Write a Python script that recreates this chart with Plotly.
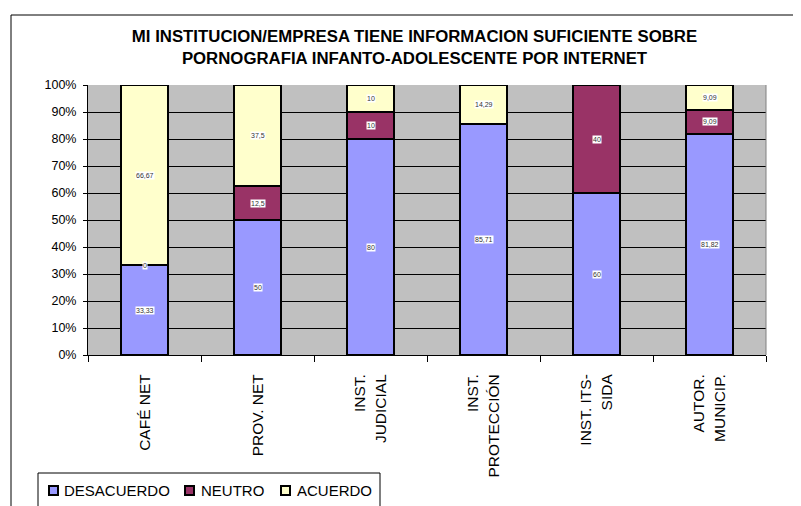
import plotly.graph_objects as go

categories = ["CAFÉ NET", "PROV. NET", "INST.<br>JUDICIAL", "INST.<br>PROTECCIÓN", "INST. ITS-<br>SIDA", "AUTOR.<br>MUNICIP."]
desacuerdo = [33.33, 50, 80, 85.71, 60, 81.82]
neutro = [0, 12.5, 10, None, 40, 9.09]
acuerdo = [66.67, 37.5, 10, 14.29, None, 9.09]
y_ticks = [0, 10, 20, 30, 40, 50, 60, 70, 80, 90, 100]
y_tick_labels = ["0%", "10%", "20%", "30%", "40%", "50%", "60%", "70%", "80%", "90%", "100%"]
series_names = ["DESACUERDO", "NEUTRO", "ACUERDO"]
title_text = "MI INSTITUCION/EMPRESA TIENE INFORMACION SUFICIENTE SOBRE<br>PORNOGRAFIA INFANTO-ADOLESCENTE POR INTERNET"

colors = ["#9999FF", "#993366", "#FFFFCC"]
series = list(zip(series_names, [desacuerdo, neutro, acuerdo], colors))

FONT = "Liberation Sans, Arial, sans-serif"

# the page body adds an 8px offset; work in screen pixels and compensate
OFF = 8
W, H = 801, 506
# plot area in screen pixels
SL, SR, ST, SB = 88, 766, 85, 355
L, R, T, B = SL - OFF, SR - OFF, ST - OFF, SB - OFF

def px(x):
    return (x - SL) / (SR - SL)
def py(y):
    return (SB - y) / (SB - ST)

fig = go.Figure()
for name, vals, col in series:
    fig.add_trace(go.Bar(
        x=categories, y=[v if v is not None else 0 for v in vals], name=name,
        marker=dict(color=col, line=dict(color="black", width=2)),
        width=0.41, showlegend=False,
    ))

def fmt(v):
    s = ("%.2f" % v).rstrip("0").rstrip(".")
    return s.replace(".", ",")

annotations = []
for i, cat in enumerate(categories):
    base = 0
    for name, vals, col in series:
        v = vals[i]
        if v is None:
            continue
        annotations.append(dict(
            x=cat, y=base + v / 2, xref="x", yref="y", text=fmt(v),
            showarrow=False, bgcolor="white", borderpad=0,
            font=dict(size=7, color="#333333", family=FONT),
        ))
        base += v

shapes = [
    # outer chart frame
    dict(type="rect", xref="paper", yref="paper",
         x0=px(11), x1=px(830), y0=py(530), y1=py(15),
         line=dict(color="black", width=1), fillcolor="rgba(0,0,0,0)", layer="below"),
    # plot area right border
    dict(type="line", xref="paper", yref="paper", x0=1, x1=1, y0=0, y1=1,
         line=dict(color="#808080", width=1)),
    # legend box
    dict(type="rect", xref="paper", yref="paper",
         x0=px(38), x1=px(380), y0=py(530), y1=py(473),
         line=dict(color="black", width=1), fillcolor="white"),
]

legend_items = [(49, 62), (185, 199), (281, 295)]
for (mx, tx), (name, vals, col) in zip(legend_items, series):
    shapes.append(dict(type="rect", xref="paper", yref="paper",
                       x0=px(mx), x1=px(mx + 9), y0=py(495), y1=py(486),
                       line=dict(color="black", width=2), fillcolor=col))
    annotations.append(dict(x=px(tx), y=py(490), xref="paper", yref="paper",
                            text=name, showarrow=False, xanchor="left", yanchor="middle",
                            font=dict(size=15, family=FONT, color="black")))

fig.update_layout(
    barmode="stack",
    width=W, height=H,
    margin=dict(l=L, r=W - R, t=T, b=H - B, autoexpand=False),
    paper_bgcolor="white",
    plot_bgcolor="#C0C0C0",
    font=dict(family=FONT, color="black"),
    showlegend=False,
    title=dict(text="<b>" + title_text + "</b>", x=(414.5 - OFF) / W, xanchor="center",
               y=1 - (42 - OFF) / H, yanchor="middle", font=dict(size=16.8, family=FONT)),
    xaxis=dict(showgrid=False, showline=True, linecolor="black", linewidth=1,
               ticks="outside", tickson="boundaries", ticklen=6, tickcolor="black",
               tickangle=-90, tickfont=dict(size=15.5, family=FONT),
               ticklabelstandoff=12),
    yaxis=dict(range=[0, 100], tickvals=y_ticks, ticktext=y_tick_labels,
               showgrid=True, gridcolor="black", gridwidth=1,
               showline=True, linecolor="black", linewidth=1,
               ticks="outside", ticklen=4, tickcolor="black",
               tickfont=dict(size=12.5, family=FONT), zeroline=False,
               ticklabelstandoff=4),
    annotations=annotations,
    shapes=shapes,
)

fig.write_html("out.html")
